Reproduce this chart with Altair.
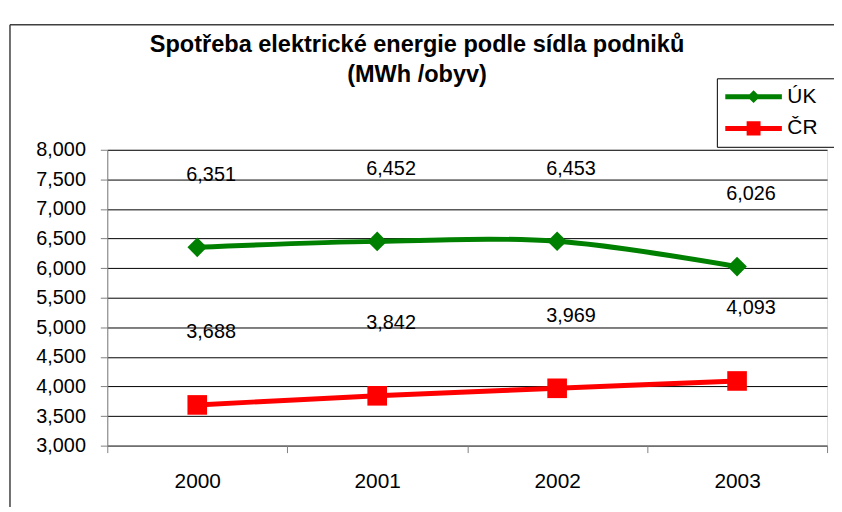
import altair as alt
import pandas as pd

# ---- data ----
years = ["2000", "2001", "2002", "2003"]
uk_values = [6351, 6452, 6453, 6026]
cr_values = [3688, 3842, 3969, 4093]
series_names = ["ÚK", "ČR"]
series_colors = ["#008000", "#FF0000"]
series_shapes = ["diamond", "square"]
y_ticks = [3000, 3500, 4000, 4500, 5000, 5500, 6000, 6500, 7000, 7500, 8000]
title_lines = ["Spotřeba elektrické energie podle sídla podniků", "(MWh /obyv)"]

rows = []
for name, vals in zip(series_names, [uk_values, cr_values]):
    for yr, v in zip(years, vals):
        rows.append({"rok": yr, "serie": name, "hodnota": v})
df = pd.DataFrame(rows)

FONT = "Liberation Sans"
W, H = 725, 298

# legend symbols: line segment (57px) + marker; symbolSize 400 -> 10px per unit,
# symbol centre sits 10px from the entry's left edge; trailing moveTo widens the box
path_uk = "M-1,-0.25L4.7,-0.25L4.7,0.25L-1,0.25Z M1.2,0L1.85,-0.65L2.5,0L1.85,0.65Z M10,0"
path_cr = "M-1,-0.25L4.7,-0.25L4.7,0.25L-1,0.25Z M1.15,-0.72L2.55,-0.72L2.55,0.72L1.15,0.72Z M10,0"

x_enc = alt.X(
    "rok:O",
    sort=years,
    scale=alt.Scale(type="band", paddingInner=0, paddingOuter=0),
    axis=alt.Axis(
        title=None, labelAngle=0, tickBand="extent", grid=False,
        domainColor="#808080", tickColor="#808080", tickSize=7,
        labelFontSize=21, labelPadding=18, labelColor="black", labelFont=FONT,
    ),
)
y_enc = alt.Y(
    "hodnota:Q",
    scale=alt.Scale(domain=[3000, 8000], nice=False, zero=False),
    axis=alt.Axis(
        title=None, values=y_ticks, format=",.0f", grid=True,
        gridColor="black", gridWidth=1, gridOpacity=1,
        domainColor="#808080", tickColor="#808080", tickSize=7,
        labelFontSize=20, labelPadding=15, labelColor="black", labelFont=FONT,
    ),
)

base = alt.Chart(df)

series_layers = []
for name, col, shp in zip(series_names, series_colors, series_shapes):
    sub = base.transform_filter(alt.datum.serie == name)
    series_layers.append(
        sub.mark_line(strokeWidth=5, interpolate="cardinal", color=col).encode(x=x_enc, y=y_enc)
    )
    series_layers.append(
        sub.mark_point(shape=shp, filled=True, size=390, opacity=1, color=col).encode(x=x_enc, y=y_enc)
    )

labels = base.mark_text(
    fontSize=20, font=FONT, color="black", dx=14, dy=-67, baseline="alphabetic"
).encode(x=x_enc, y=y_enc, text=alt.Text("hodnota:Q", format=",.0f"))

legend_props = dict(
    title=None, orient="none", legendX=614, legendY=-72, direction="vertical",
    strokeColor="black", fillColor="white", padding=8,
    symbolSize=400, symbolStrokeWidth=0, symbolOpacity=1,
    labelFontSize=21, labelFont=FONT, labelColor="black", labelOffset=42,
    rowPadding=10,
)
legend_layer = base.mark_point(filled=True, opacity=0).encode(
    x=x_enc, y=y_enc,
    color=alt.Color("serie:N", scale=alt.Scale(domain=series_names, range=series_colors),
                    legend=alt.Legend(**legend_props)),
    shape=alt.Shape("serie:N", scale=alt.Scale(domain=series_names, range=[path_uk, path_cr]),
                    legend=alt.Legend(**legend_props)),
)

one = pd.DataFrame({"k": [0]})
frame_left = alt.Chart(one).mark_rule(color="#404040", strokeWidth=1.5).encode(
    x=alt.value(-98), y=alt.value(-126), y2=alt.value(600)
)
frame_top = alt.Chart(one).mark_rule(color="#404040", strokeWidth=1.5).encode(
    x=alt.value(-98), x2=alt.value(900), y=alt.value(-126)
)
title_text = alt.Chart(one).mark_text(
    font=FONT, fontSize=23.7, fontWeight="bold", color="black",
    align="center", baseline="alphabetic", lineHeight=30,
).encode(x=alt.value(312), y=alt.value(-98), text=alt.value(title_lines))

chart = alt.layer(
    frame_left, frame_top, title_text, *series_layers, labels, legend_layer
).properties(
    width=W, height=H,
    autosize=alt.AutoSizeParams(type="none"),
    padding={"left": 100, "top": 141, "right": 7, "bottom": 60},
).configure_view(stroke=None).configure(font=FONT)

chart.save("out.html", embed_options={"renderer": "svg", "actions": False})
